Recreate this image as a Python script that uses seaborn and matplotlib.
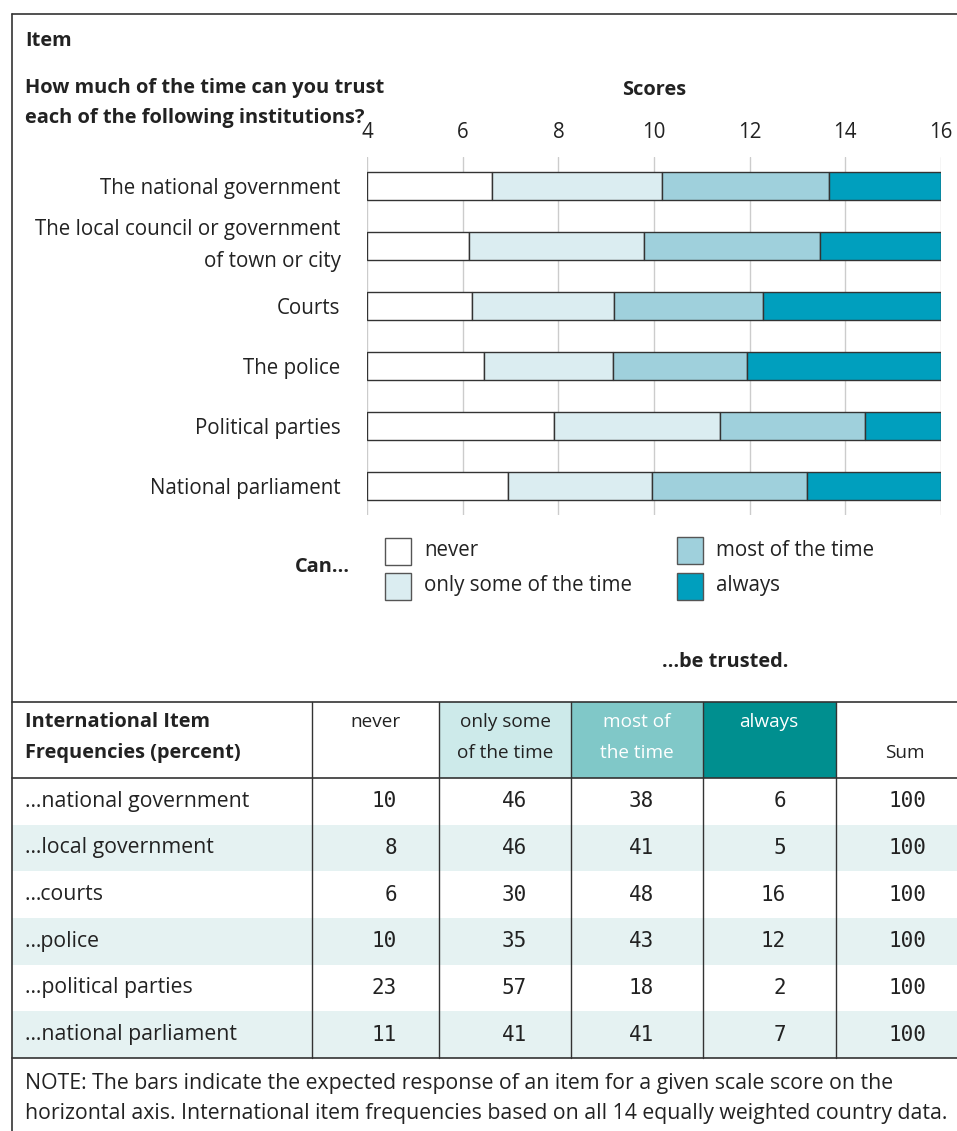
import numpy as np
import pandas as pd
import seaborn as sns
import matplotlib.pyplot as plt
from matplotlib.patches import Rectangle

# Item thresholds on the scale (where the expected response changes category)
ITEMS = [
    "The national government",
    "The local council or government\nof town or city",
    "Courts",
    "The police",
    "Political parties",
    "National parliament",
]
CUT_NEVER = [6.62, 6.13, 6.20, 6.45, 7.90, 6.94]
CUT_SOME = [10.17, 9.79, 9.17, 9.14, 11.38, 9.96]
CUT_MOST = [13.65, 13.48, 12.27, 11.95, 14.41, 13.20]
SCALE_MIN, SCALE_MAX = 4, 16
SCALE_TICKS = [4, 6, 8, 10, 12, 14, 16]

CATEGORIES = ["never", "only some of the time", "most of the time", "always"]
BAR_COLORS = ["#ffffff", "#dbedf1", "#9fd0dc", "#009fbe"]

# International item frequencies (percent)
TABLE_ROWS = ["\u2026national government", "\u2026local government", "\u2026courts",
              "\u2026police", "\u2026political parties", "\u2026national parliament"]
NEVER_PCT = [10, 8, 6, 10, 23, 11]
SOME_PCT = [46, 46, 30, 35, 57, 41]
MOST_PCT = [38, 41, 48, 43, 18, 41]
ALWAYS_PCT = [6, 5, 16, 12, 2, 7]
HEADER_LABELS = ["never", "only some\nof the time", "most of\nthe time", "always", "Sum"]
HEADER_FILLS = ["#ffffff", "#cdeaea", "#80c8c8", "#008f8f", "#ffffff"]
HEADER_INK = ["#222222", "#222222", "#ffffff", "#ffffff", "#222222"]

NOTE = ["NOTE: The bars indicate the expected response of an item for a given scale score on the",
        "horizontal axis. International item frequencies based on all 14 equally weighted country data."]

INK = "#222222"
LINE = "#333333"
FS = 14.8        # regular text
FS_BODY = 15.3   # table rows and note
FS_BOLD = 14.4   # bold headings
FS_HEAD = 13.7   # table column heads
FS_NUM = 15      # table numbers

sns.set_style("white")
plt.rcParams["font.family"] = ["Open Sans", "DejaVu Sans"]

W, H = 957, 1131
fig = plt.figure(figsize=(W / 100, H / 100), dpi=100)
bg = fig.add_axes([0, 0, 1, 1], zorder=0)
bg.set_xlim(0, W)
bg.set_ylim(H, 0)
bg.axis("off")


def box(x0, y0, x1, y1):
    """pixel box (top-left origin) -> figure fraction rect"""
    return [x0 / W, 1 - y1 / H, (x1 - x0) / W, (y1 - y0) / H]


def put(x, y, lines, step=31, **kw):
    """write one or more lines of text on the background layer"""
    if isinstance(lines, str):
        lines = lines.split("\n")
    kw.setdefault("color", INK)
    kw.setdefault("fontsize", FS)
    kw.setdefault("va", "center")
    for i, s in enumerate(lines):
        bg.text(x, y + i * step, s, **kw)


# ---- frame ----
bg.plot([12, 12], [14, H], color=LINE, lw=1.2)
bg.plot([12, W], [14, 14], color=LINE, lw=1.2)

# ---- upper part: the bar chart ----
put(25, 41, "Item", fontweight="bold", fontsize=FS_BOLD)
put(25, 88, ["How much of the time can you trust", "each of the following institutions?"],
    step=30, fontweight="bold", fontsize=FS_BOLD)
put(654, 90, "Scores", fontweight="bold", ha="center", fontsize=FS_BOLD)

ax = fig.add_axes(box(367, 157, 941, 515), zorder=2)
ax.patch.set_alpha(0)
edges = [[SCALE_MIN] * len(ITEMS), CUT_NEVER, CUT_SOME, CUT_MOST, [SCALE_MAX] * len(ITEMS)]
for k, (cat, col) in enumerate(zip(CATEGORIES, BAR_COLORS)):
    seg = pd.DataFrame({
        "item": ITEMS,
        "start": edges[k],
        "span": np.array(edges[k + 1]) - np.array(edges[k]),
    })
    sns.barplot(data=seg, x="span", y="item", left=seg["start"].to_numpy(), orient="h",
                color=col, saturation=1, width=0.47, edgecolor=LINE, linewidth=1, ax=ax)

ax.set_xlim(SCALE_MIN, SCALE_MAX)
ax.set_ylim(len(ITEMS) - 0.52, -0.48)
ax.set_xticks(SCALE_TICKS)
ax.xaxis.tick_top()
ax.tick_params(axis="x", length=0, pad=10, labelsize=FS, colors=INK)
ax.tick_params(axis="y", length=0, pad=19, labelsize=FS, colors=INK)
for t in ax.get_yticklabels():
    if "\n" in t.get_text():
        t.set_linespacing(1.68)
        t.set_verticalalignment("center")
ax.set_xlabel("")
ax.set_ylabel("")
ax.grid(axis="x", color="#cccccc", lw=1)
ax.set_axisbelow(True)
sns.despine(ax=ax, left=True, bottom=True, top=True, right=True)

# legend
put(350, 567, "Can\u2026", fontweight="bold", ha="right", fontsize=FS_BOLD)
legend_pos = [(385, 551), (385, 586), (677, 550), (677, 586)]
for (lx, ly), cat, col in zip(legend_pos, CATEGORIES, BAR_COLORS):
    bg.add_patch(Rectangle((lx, ly - 13), 26, 27, facecolor=col, edgecolor="#555555", lw=1))
    put(lx + 39, ly, cat)
put(662, 662, "\u2026be trusted.", fontweight="bold", fontsize=FS_BOLD)

# ---- lower part: frequency table ----
col_x = [12, 312, 439, 571, 703, 836, W]
head_top, head_bot, tab_bot = 702, 778, 1058
row_h = (tab_bot - head_bot) / len(TABLE_ROWS)

for i in range(len(TABLE_ROWS)):
    if i % 2 == 1:
        bg.add_patch(Rectangle((12, head_bot + i * row_h), W - 12, row_h,
                               facecolor="#e5f2f2", edgecolor="none"))
head_cx = [375, 505, 637, 769, 905]
for j, (lab, fill, ink) in enumerate(zip(HEADER_LABELS, HEADER_FILLS, HEADER_INK)):
    x0, x1 = col_x[j + 1], col_x[j + 2]
    bg.add_patch(Rectangle((x0, head_top), x1 - x0, head_bot - head_top,
                           facecolor=fill, edgecolor="none"))
    y = 753 if lab == "Sum" else 722
    put(head_cx[j], y, lab, fontsize=FS_HEAD, ha="center", color=ink)

put(25, 722, ["International Item", "Frequencies (percent)"], fontweight="bold", fontsize=FS_BOLD)

num_right = [397, 527, 654, 786, 926]
table = np.array([NEVER_PCT, SOME_PCT, MOST_PCT, ALWAYS_PCT]).T
for i, name in enumerate(TABLE_ROWS):
    yc = head_bot + (i + 0.5) * row_h
    put(25, yc, name, fontsize=FS_BODY)
    vals = list(table[i]) + [table[i].sum()]
    for xr, v in zip(num_right, vals):
        put(xr, yc, str(v), ha="right", family="DejaVu Sans Mono", fontsize=FS_NUM)

for y in (head_top, head_bot, tab_bot):
    bg.plot([12, W], [y, y], color=LINE, lw=1.2)
for x in col_x[1:-1]:
    bg.plot([x, x], [head_top, tab_bot], color=LINE, lw=1)

put(25, 1083, NOTE, step=31, fontsize=FS_BODY)

fig.savefig("out.png", dpi=100)
